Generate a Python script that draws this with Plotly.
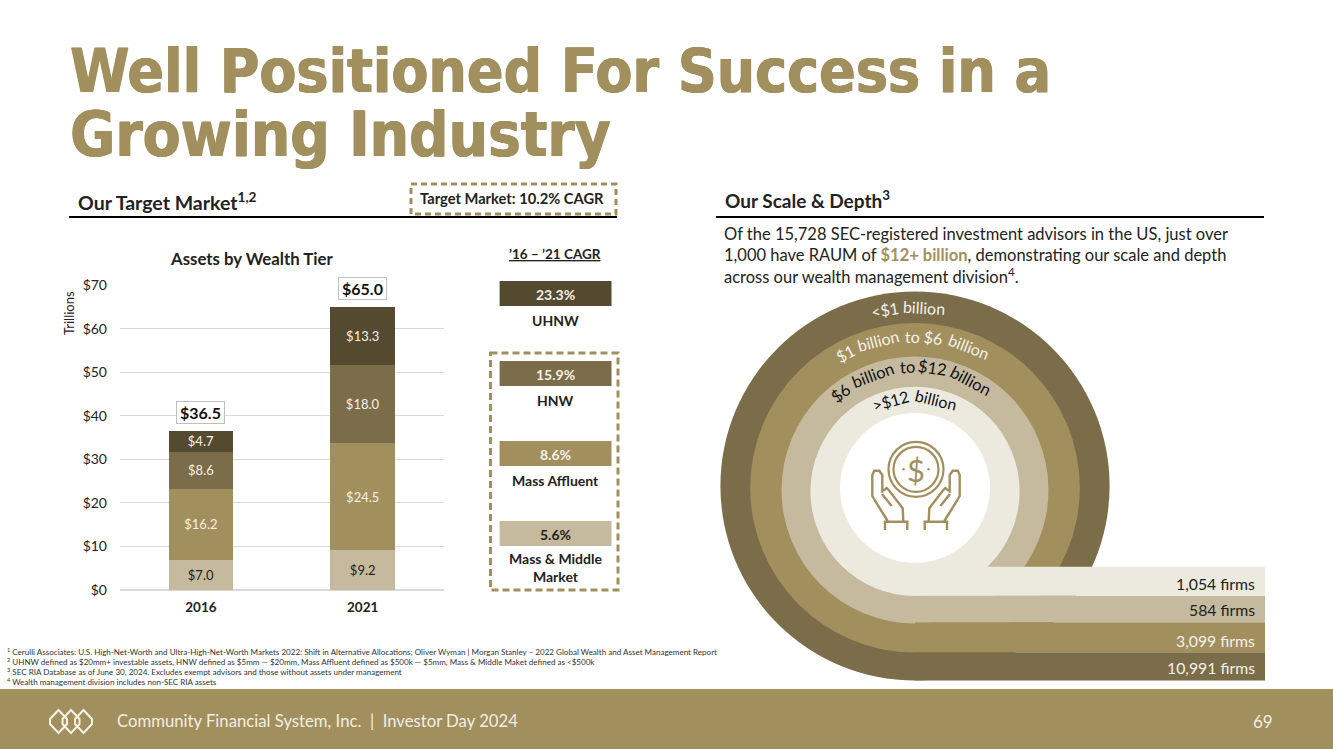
import math

import plotly.graph_objects as go

# chart values
years = ["2016", "2021"]
tiers = ["Mass & Middle Market", "Mass Affluent", "HNW", "UHNW"]
mass_middle = [7.0, 9.2]
mass_affluent = [16.2, 24.5]
hnw = [8.6, 18.0]
uhnw = [4.7, 13.3]
totals = [36.5, 65.0]
y_ticks = [0, 10, 20, 30, 40, 50, 60, 70]
y_tick_labels = ["$0", "$10", "$20", "$30", "$40", "$50", "$60", "$70"]

cagr_labels = ["UHNW", "HNW", "Mass Affluent", "Mass & Middle<br>Market"]
cagr_values = ["23.3%", "15.9%", "8.6%", "5.6%"]

firm_labels = ["10,991 firms", "3,099 firms", "584 firms", "1,054 firms"]

footnotes = [
    "<sup>1</sup> Cerulli Associates: U.S. High-Net-Worth and Ultra-High-Net-Worth Markets 2022: Shift in Alternative Allocations; Oliver Wyman | Morgan Stanley – 2022 Global Wealth and Asset Management Report",
    "<sup>2</sup> UHNW defined as $20mm+ investable assets, HNW defined as $5mm — $20mm, Mass Affluent defined as $500k — $5mm, Mass & Middle Maket defined as <$500k",
    "<sup>3</sup> SEC RIA Database as of June 30, 2024. Excludes exempt advisors and those without assets under management",
    "<sup>4</sup> Wealth management division includes non-SEC RIA assets",
]

DARK = "#544A30"
BROWN = "#7B6D49"
GOLD = "#A28F5E"
TAN = "#C5BA9E"
LIGHT = "#ECE9DF"
FONT = "Lato"

fig = go.Figure()

series = [mass_middle, mass_affluent, hnw, uhnw]
colors = [TAN, GOLD, BROWN, DARK]
text_colors = ["#222222", "#F4F1E8", "#F4F1E8", "#F4F1E8"]
for name, vals, col, tcol in zip(tiers, series, colors, text_colors):
    fig.add_trace(go.Bar(
        x=years, y=vals, name=name, marker_color=col, marker_line_width=0,
        text=[f"${v:.1f}" for v in vals], textposition="inside", insidetextanchor="middle",
        textangle=0, constraintext="none", textfont=dict(family=FONT, size=13, color=tcol),
        hoverinfo="skip",
    ))

fig.update_layout(
    barmode="stack", bargap=0.6, showlegend=False,
    width=1333, height=749, margin=dict(l=0, r=0, t=0, b=0, autoexpand=False),
    paper_bgcolor="white", plot_bgcolor="rgba(0,0,0,0)",
    font=dict(family=FONT, color="#222222"),
    xaxis=dict(type="category", range=[-0.5, 1.5], domain=[120 / 1333, 443.6 / 1333], showgrid=False, showline=False,
               ticks="", automargin=False, ticklabelstandoff=7,
               tickfont=dict(family=FONT, size=13.5, color="#222222", weight="bold")),
    yaxis=dict(domain=[1 - 590 / 749, 1 - 285.3 / 749], range=[0, 70], tickvals=y_ticks, ticktext=y_tick_labels,
               gridcolor="#D9D9D9", gridwidth=1, zeroline=True, zerolinecolor="#D9D9D9", showline=False,
               automargin=False, ticks="", ticklabelstandoff=12, tickfont=dict(family=FONT, size=14, color="#222222")),
    # full page overlay, one unit = one pixel, for the slide furniture
    xaxis2=dict(domain=[0, 1], range=[0, 1333], visible=False, anchor="y2", fixedrange=True, automargin=False),
    yaxis2=dict(domain=[0, 1], range=[749, 0], visible=False, anchor="x2", fixedrange=True, automargin=False),
)

shapes = []
annots = []


def rect(x0, y0, x1, y1, fill, line=None, dash=None, lw=0):
    shapes.append(dict(type="rect", xref="x2", yref="y2", x0=x0, y0=y0, x1=x1, y1=y1, layer="below",
                       fillcolor=fill, line=dict(color=line or "rgba(0,0,0,0)", width=lw, dash=dash or "solid")))


def label(x, y, text, size=14, color="#222222", anchor="center", bold=False, angle=0, family=FONT, shadow=None):
    # annotations carry about 2px of padding, take it off so x is where the ink starts
    nudge = {"left": -2, "right": 2}.get(anchor, 0)
    font = dict(family=family, size=size, color=color)
    if shadow:
        font["shadow"] = shadow
    annots.append(dict(xref="x2", yref="y2", x=x + nudge, y=y, text=f"<b>{text}</b>" if bold else text,
                       showarrow=False, xanchor=anchor, yanchor="middle", textangle=angle,
                       font=font, align="center"))


# title and section headers
heavy = f"0.6px 0 0 {GOLD}, -0.6px 0 0 {GOLD}"
label(70, 71, "Well Positioned For Success in a", size=60, color=GOLD, anchor="left", bold=True,
      family="DejaVu Sans Condensed", shadow=heavy)
label(70, 135, "Growing Industry", size=61.5, color=GOLD, anchor="left", bold=True,
      family="DejaVu Sans Condensed", shadow=heavy)

label(78, 201, "Our Target Market<sup>1,2</sup>", size=19.5, anchor="left", bold=True)
label(725, 199, "Our Scale & Depth<sup>3</sup>", size=19, anchor="left", bold=True)
shapes.append(dict(type="line", xref="x2", yref="y2", x0=69, x1=617, y0=217, y1=217, line=dict(color="black", width=2)))
shapes.append(dict(type="line", xref="x2", yref="y2", x0=716, x1=1264, y0=217, y1=217, line=dict(color="black", width=2)))
rect(411, 184, 616, 214, "rgba(0,0,0,0)", GOLD, "6px,4px", 3)
label(512, 198, "Target Market: 10.2% CAGR", size=14.7, bold=True)

label(251, 258, "Assets by Wealth Tier", size=16.8, bold=True)
label(69, 313, "Trillions", size=13, angle=-90)

# totals on top of the stacks
for i, tot in enumerate(totals):
    annots.append(dict(xref="x", yref="y", x=i, y=tot, yshift=19, text=f"<b>${tot:.1f}</b>", showarrow=False,
                       width=47, height=21, bgcolor="white", bordercolor="#BFBFBF", borderwidth=1, borderpad=0,
                       font=dict(family=FONT, size=16, color="#111111")))

# CAGR column
label(555, 254, "<u>’16 – ’21 CAGR</u>", size=13.5, bold=True)
cagr_tops = [281, 361, 441, 521]
cagr_fills = [DARK, BROWN, GOLD, TAN]
cagr_text = ["#F4F1E8", "#F4F1E8", "#F4F1E8", "#222222"]
for top, val, name, fill, tc in zip(cagr_tops, cagr_values, cagr_labels, cagr_fills, cagr_text):
    rect(499.6, top, 611.5, top + 25, fill)
    label(555.5, top + 13, val, size=14, color=tc, bold=True)
    label(555.5, top + (46 if "<br>" in name else 39), name, size=14, bold=True)
rect(490.5, 353, 618, 590, "rgba(0,0,0,0)", GOLD, "7px,4px", 3)

# paragraph
para = [
    "Of the 15,728 SEC-registered investment advisors in the US, just over",
    f"1,000 have RAUM of <b><span style='color:{GOLD}'>$12+ billion</span></b>, demonstrating our scale and depth",
    "across our wealth management division<sup>4</sup>.",
]
for y, line in zip([234, 255, 276], para):
    label(724, y, line, size=16.5, anchor="left")

# rings, slightly off centre from each other so each one lands on the top of its band
CX, CY = 915, 486
ring_r = [194.6, 164.8, 133.5, 104.6, 75]
ring_cy = [486, 487.8, 490, 491.3, 488]
for r, cy, fill in zip(ring_r, ring_cy, [BROWN, GOLD, TAN, LIGHT, "white"]):
    shapes.append(dict(type="circle", xref="x2", yref="y2", x0=CX - r, x1=CX + r, y0=cy - r, y1=cy + r,
                       layer="below", fillcolor=fill, line_width=0))

# bands running out of the rings
band_tops = [652.3, 622.3, 595.7, 566.7]
band_bottoms = [680.6, 652.3, 622.3, 595.7]
band_fills = [BROWN, GOLD, TAN, LIGHT]
band_text = ["#F4F1E8", "#F4F1E8", "#222222", "#222222"]
band_label_y = [667, 640, 609, 583]
for t, b, fill, txt, tc, ly in zip(band_tops, band_bottoms, band_fills, firm_labels, band_text, band_label_y):
    rect(CX, t, 1265, b, fill)
    label(1255, ly, txt, size=15.8, color=tc, anchor="right")

# ring captions, word by word along the arcs (angle from 12 o'clock, radius)
arc_words = [
    (179, ["<$1", "billion"], [-9.6, 3], "#F4F1E8", 16),
    (150, ["$1", "billion", "to", "$6", "billion"], [-27.8, -14.4, -0.9, 6.9, 21.2], "#F4F1E8", 16),
    (119, ["$6", "billion", "to", "$12", "billion"], [-38.5, -20.5, -3.5, 8.5, 28], "#111111", 16.5),
    (89, [">$12", "billion"], [-16, 13.4], "#111111", 16),
]
for r, words, angles, col, fs in arc_words:
    for w, a in zip(words, angles):
        t = math.radians(a)
        label(CX + r * math.sin(t), CY - r * math.cos(t), w, size=fs, color=col, angle=a)


# icon: coin between two hands (coordinates in the icon's own box)
def ix(v):
    return 820 + v / 3


def iy(v):
    return 420 + v / 3


def hand(m):
    fx = (lambda v: ix(576 - v)) if m else ix
    pts = [
        [(203, 303), (170, 250), (157, 228), (157, 165), (163, 152), (178, 152), (187, 165), (187, 218)],
        [(190, 212), (200, 204), (208, 212), (248, 265), (250, 303)],
        [(186, 222), (215, 258)],
        [(195, 330), (195, 305), (262, 305), (262, 330)],
    ]
    for p in pts:
        path = "M " + " L ".join(f"{fx(a):.1f} {iy(b):.1f}" for a, b in p)
        shapes.append(dict(type="path", xref="x2", yref="y2", path=path, line=dict(color=GOLD, width=2.4), layer="below"))


hand(False)
hand(True)
for r in [27.5, 22.5]:
    shapes.append(dict(type="circle", xref="x2", yref="y2", x0=916 - r, x1=916 + r, y0=469.3 - r, y1=469.3 + r,
                       layer="below", line=dict(color=GOLD, width=2.2)))
label(916, 469.5, "$", size=31, color=GOLD)
for dx in [-12.5, 12.5]:
    shapes.append(dict(type="circle", xref="x2", yref="y2", x0=916 + dx - 1.2, x1=916 + dx + 1.2, y0=468.1, y1=470.5,
                       layer="below", fillcolor=GOLD, line_width=0))

# footnotes and footer
for y, note in zip([651, 661, 671, 681], footnotes):
    label(7, y, note, size=8.05, color="#333333", anchor="left")
rect(0, 689, 1333, 749, GOLD)
label(117, 721, "Community Financial System, Inc.  |  Investor Day 2024", size=16.7, color="#F1EEE2", anchor="left")
label(1263, 721, "69", size=17, color="#F1EEE2")
# logo, three linked lozenges
for cx in [58.5, 71, 83.5]:
    shapes.append(dict(type="path", xref="x2", yref="y2", layer="above",
                       path=(f"M {cx} 710 L {cx + 8.5} 719 L {cx + 8.5} 724 L {cx} 733 "
                             f"L {cx - 8.5} 724 L {cx - 8.5} 719 Z"),
                       line=dict(color="#F4F1E8", width=2)))

fig.update_layout(shapes=shapes, annotations=annots)
fig.write_html("out.html", config={"displayModeBar": False, "responsive": False},
               default_width="1333px", default_height="749px",
               post_script="document.body.style.margin='0';document.body.style.overflow='hidden';")
